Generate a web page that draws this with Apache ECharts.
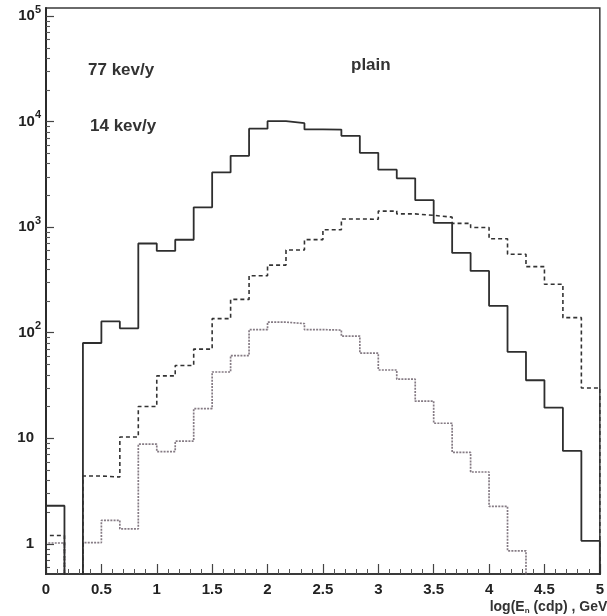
<!DOCTYPE html>
<html><head><meta charset="utf-8">
<script src="https://cdn.jsdelivr.net/npm/echarts@6/dist/echarts.min.js"></script>
<style>html,body{margin:0;padding:0;background:#fff}#c{width:607px;height:616px}</style>
</head><body><div id="c"></div>
<script>
// histogram binning: 30 bins of width 1/6 on [0, 5]
const binLow = 0;
const binWidth = 1 / 6;
const solidCounts  = [2.3, 0, 80, 128, 110, 700, 595, 760, 1540, 3300, 4740, 8570, 10090, 9660, 8430, 8400, 7330, 5060, 3500, 2900, 1800, 1100, 570, 385, 180, 66, 35.5, 19.5, 7.6, 1.07];
const dashedCounts = [1.2, 0, 4.4, 4.3, 10.3, 20, 39, 49, 70, 136, 207, 347, 437, 607, 762, 945, 1196, 1188, 1420, 1335, 1294, 1244, 1087, 991, 776, 554, 423, 288, 139, 30];
const dottedCounts = [1.02, 0, 1.03, 1.67, 1.39, 8.8, 7.5, 9.4, 19.1, 42.5, 60.8, 107, 126, 122, 107, 106, 93, 64, 44.4, 36.3, 22.5, 13.9, 7.35, 4.8, 2.27, 0.86, 0, 0, 0, 0];
const yMajorTicks = [1, 10, 100, 1000, 10000, 100000];
const annotations = [
  {text: '77 kev/y', x: 88, y: 70},
  {text: '14 kev/y', x: 90, y: 126},
  {text: 'plain', x: 351, y: 65}
];
const xMin = 0, xMax = 5, xStep = 0.5;
const yMin = 0.519, yMax = 119000;

const FLOOR = 1e-3; // empty bins drawn below the axis and clipped
function histPoints(counts) {
  const pts = [[binLow, FLOOR]];
  counts.forEach((c, i) => pts.push([binLow + i * binWidth, c > 0 ? c : FLOOR]));
  const last = counts[counts.length - 1];
  pts.push([binLow + counts.length * binWidth, last > 0 ? last : FLOOR]);
  pts.push([binLow + counts.length * binWidth, FLOOR]);
  return pts;
}
const yMinorTicks = [];
for (let e = -1; e <= 4; e++) for (let m = 2; m <= 9; m++) {
  const v = m * Math.pow(10, e);
  if (v >= yMin && v <= yMax) yMinorTicks.push(v);
}

const FONT = '"Liberation Sans", Arial, Helvetica, sans-serif';
const ink = '#2b2b2b';
const chart = echarts.init(document.getElementById('c'), null, {renderer: 'canvas'});
const grid = {left: 46, right: 1, top: 8, bottom: 42, show: true, borderColor: '#3a3a3a', borderWidth: 1.5, backgroundColor: 'transparent'};

chart.setOption({
  animation: false,
  backgroundColor: '#fff',
  grid,
  xAxis: {
    type: 'value', min: xMin, max: xMax, interval: xStep,
    axisLine: {show: true, onZero: false, lineStyle: {color: ink, width: 1.6}},
    axisTick: {show: true, inside: true, length: 10, lineStyle: {color: '#444', width: 1.2}},
    minorTick: {show: true, splitNumber: 5, length: 5, lineStyle: {color: '#555', width: 1}},
    splitLine: {show: false},
    axisLabel: {margin: 8, color: '#222', fontFamily: FONT, fontWeight: 'bold', fontSize: 15,
      formatter: v => String(+v.toFixed(1))}
  },
  yAxis: [{
    type: 'log', min: yMin, max: yMax, position: 'left',
    axisLine: {show: true, onZero: false, lineStyle: {color: ink, width: 2}},
    axisTick: {show: true, inside: true, length: 8, customValues: yMajorTicks, lineStyle: {color: '#444', width: 1.2}},
    splitLine: {show: false},
    axisLabel: {
      margin: 5, customValues: yMajorTicks,
      formatter: v => {
        const e = Math.round(Math.log10(v));
        if (e === 0) return '{b|1}{sp| }';
        if (e === 1) return '{b|10}{sp| }';
        return '{b|10}{s|' + e + '}';
      },
      rich: {
        b: {fontFamily: FONT, fontWeight: 'bold', fontSize: 15, lineHeight: 24, color: '#222'},
        s: {fontFamily: FONT, fontWeight: 'bold', fontSize: 11, lineHeight: 8, verticalAlign: 'top', color: '#222'},
        sp: {width: 7, fontSize: 11}
      }
    }
  }, {
    type: 'log', min: yMin, max: yMax, position: 'left',
    axisLine: {show: false},
    axisTick: {show: true, inside: true, length: 4, customValues: yMinorTicks, lineStyle: {color: '#555', width: 1.1}},
    axisLabel: {show: false},
    splitLine: {show: false}
  }],
  series: [
    {name: 'solid', type: 'line', step: 'end', symbol: 'none', clip: true, yAxisIndex: 0,
      data: histPoints(solidCounts), lineStyle: {color: '#2e2e2e', width: 1.8}, z: 5},
    {name: 'dashed', type: 'line', step: 'end', symbol: 'none', clip: true, yAxisIndex: 0,
      data: histPoints(dashedCounts), lineStyle: {color: '#333', width: 1.6, type: [4, 3]}, z: 4},
    {name: 'dotted', type: 'line', step: 'end', symbol: 'none', clip: true, yAxisIndex: 0,
      data: histPoints(dottedCounts), lineStyle: {color: '#857b84', width: 1.7, type: [2, 1.2]}, z: 3}
  ],
  graphic: annotations.map(a => ({
    type: 'text', x: a.x, y: a.y,
    style: {text: a.text, font: 'bold 17px ' + FONT, fill: '#333', verticalAlign: 'middle', align: 'left'}
  })).concat([{
    type: 'text', x: 612, y: 607,
    style: {
      text: '{a|log(E}{n|n}{a| (cdp) , GeV)}', align: 'right', verticalAlign: 'middle',
      rich: {
        a: {fontFamily: FONT, fontWeight: 'bold', fontSize: 14, fill: '#333', lineHeight: 16},
        n: {fontFamily: FONT, fontWeight: 'bold', fontSize: 8, fill: '#333', lineHeight: 16, padding: [8, 0, 0, 0], verticalAlign: 'bottom'}
      }
    }
  }])
});
</script></body></html>
